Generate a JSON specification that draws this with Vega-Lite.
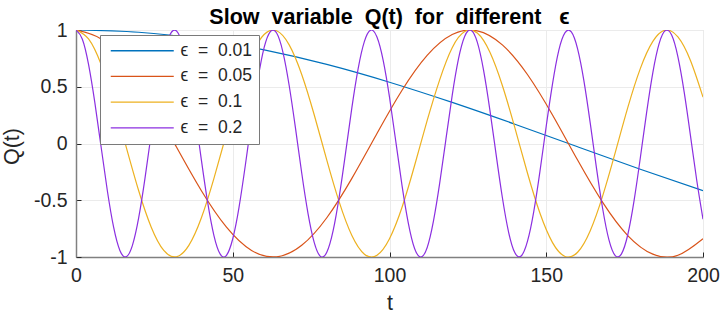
{
  "$schema": "https://vega.github.io/schema/vega-lite/v6.json",
  "width": 627,
  "height": 227,
  "autosize": {"type": "none"},
  "padding": {"left": 76, "top": 30, "right": 19, "bottom": 57},
  "background": "white",
  "title": {"text": "Slow\u00a0 variable\u00a0 Q(t)\u00a0 for\u00a0 different\u00a0\u00a0 ϵ", "fontSize": 21.5, "font": "Liberation Sans", "fontWeight": "bold", "offset": -8, "anchor": "middle", "color": "black"},
  "data": {"values": [
    {"e":"0.01","t":0,"q":1},{"e":"0.01","t":20,"q":0.980},{"e":"0.01","t":40,"q":0.921},{"e":"0.01","t":60,"q":0.825},{"e":"0.01","t":80,"q":0.697},{"e":"0.01","t":100,"q":0.540},{"e":"0.01","t":120,"q":0.362},{"e":"0.01","t":140,"q":0.170},{"e":"0.01","t":160,"q":-0.029},{"e":"0.01","t":180,"q":-0.227},{"e":"0.01","t":200,"q":-0.416},
    {"e":"0.05","t":0,"q":1},{"e":"0.05","t":8,"q":0.921},{"e":"0.05","t":16,"q":0.697},{"e":"0.05","t":24,"q":0.362},{"e":"0.05","t":32,"q":-0.029},{"e":"0.05","t":40,"q":-0.416},{"e":"0.05","t":48,"q":-0.737},{"e":"0.05","t":56,"q":-0.942},{"e":"0.05","t":64,"q":-0.998},{"e":"0.05","t":72,"q":-0.897},{"e":"0.05","t":80,"q":-0.654},{"e":"0.05","t":88,"q":-0.307},{"e":"0.05","t":96,"q":0.088},{"e":"0.05","t":104,"q":0.469},{"e":"0.05","t":112,"q":0.776},{"e":"0.05","t":120,"q":0.960},{"e":"0.05","t":128,"q":0.993},{"e":"0.05","t":136,"q":0.869},{"e":"0.05","t":144,"q":0.608},{"e":"0.05","t":152,"q":0.251},{"e":"0.05","t":160,"q":-0.146},{"e":"0.05","t":168,"q":-0.519},{"e":"0.05","t":176,"q":-0.811},{"e":"0.05","t":184,"q":-0.975},{"e":"0.05","t":192,"q":-0.985},{"e":"0.05","t":200,"q":-0.839},
    {"e":"0.1","t":0,"q":1},{"e":"0.1","t":4,"q":0.921},{"e":"0.1","t":8,"q":0.697},{"e":"0.1","t":12,"q":0.362},{"e":"0.1","t":16,"q":-0.029},{"e":"0.1","t":20,"q":-0.416},{"e":"0.1","t":24,"q":-0.737},{"e":"0.1","t":28,"q":-0.942},{"e":"0.1","t":32,"q":-0.998},{"e":"0.1","t":36,"q":-0.897},{"e":"0.1","t":40,"q":-0.654},{"e":"0.1","t":44,"q":-0.307},{"e":"0.1","t":48,"q":0.088},{"e":"0.1","t":52,"q":0.469},{"e":"0.1","t":56,"q":0.776},{"e":"0.1","t":60,"q":0.960},{"e":"0.1","t":64,"q":0.993},{"e":"0.1","t":68,"q":0.869},{"e":"0.1","t":72,"q":0.608},{"e":"0.1","t":76,"q":0.251},{"e":"0.1","t":80,"q":-0.146},{"e":"0.1","t":84,"q":-0.519},{"e":"0.1","t":88,"q":-0.811},{"e":"0.1","t":92,"q":-0.975},{"e":"0.1","t":96,"q":-0.985},{"e":"0.1","t":100,"q":-0.839},{"e":"0.1","t":104,"q":-0.562},{"e":"0.1","t":108,"q":-0.194},{"e":"0.1","t":112,"q":0.201},{"e":"0.1","t":116,"q":0.561},{"e":"0.1","t":120,"q":0.844},{"e":"0.1","t":124,"q":0.986},{"e":"0.1","t":128,"q":0.973},{"e":"0.1","t":132,"q":0.806},{"e":"0.1","t":136,"q":0.511},{"e":"0.1","t":140,"q":0.137},{"e":"0.1","t":144,"q":-0.260},{"e":"0.1","t":148,"q":-0.615},{"e":"0.1","t":152,"q":-0.873},{"e":"0.1","t":156,"q":-0.995},{"e":"0.1","t":160,"q":-0.958},{"e":"0.1","t":164,"q":-0.770},{"e":"0.1","t":168,"q":-0.461},{"e":"0.1","t":172,"q":-0.080},{"e":"0.1","t":176,"q":0.316},{"e":"0.1","t":180,"q":0.660},{"e":"0.1","t":184,"q":0.900},{"e":"0.1","t":188,"q":0.999},{"e":"0.1","t":192,"q":0.939},{"e":"0.1","t":196,"q":0.731},{"e":"0.1","t":200,"q":0.408},
    {"e":"0.2","t":0,"q":1},{"e":"0.2","t":2,"q":0.921},{"e":"0.2","t":4,"q":0.697},{"e":"0.2","t":6,"q":0.362},{"e":"0.2","t":8,"q":-0.029},{"e":"0.2","t":10,"q":-0.416},{"e":"0.2","t":12,"q":-0.737},{"e":"0.2","t":14,"q":-0.942},{"e":"0.2","t":16,"q":-0.998},{"e":"0.2","t":18,"q":-0.897},{"e":"0.2","t":20,"q":-0.654},{"e":"0.2","t":22,"q":-0.307},{"e":"0.2","t":24,"q":0.088},{"e":"0.2","t":26,"q":0.469},{"e":"0.2","t":28,"q":0.776},{"e":"0.2","t":30,"q":0.960},{"e":"0.2","t":32,"q":0.993},{"e":"0.2","t":34,"q":0.869},{"e":"0.2","t":36,"q":0.608},{"e":"0.2","t":38,"q":0.251},{"e":"0.2","t":40,"q":-0.146},{"e":"0.2","t":42,"q":-0.519},{"e":"0.2","t":44,"q":-0.811},{"e":"0.2","t":46,"q":-0.975},{"e":"0.2","t":48,"q":-0.985},{"e":"0.2","t":50,"q":-0.839},{"e":"0.2","t":52,"q":-0.562},{"e":"0.2","t":54,"q":-0.194},{"e":"0.2","t":56,"q":0.201},{"e":"0.2","t":58,"q":0.561},{"e":"0.2","t":60,"q":0.844},{"e":"0.2","t":62,"q":0.986},{"e":"0.2","t":64,"q":0.973},{"e":"0.2","t":66,"q":0.806},{"e":"0.2","t":68,"q":0.511},{"e":"0.2","t":70,"q":0.137},{"e":"0.2","t":72,"q":-0.260},{"e":"0.2","t":74,"q":-0.615},{"e":"0.2","t":76,"q":-0.873},{"e":"0.2","t":78,"q":-0.995},{"e":"0.2","t":80,"q":-0.958},{"e":"0.2","t":82,"q":-0.770},{"e":"0.2","t":84,"q":-0.461},{"e":"0.2","t":86,"q":-0.080},{"e":"0.2","t":88,"q":0.316},{"e":"0.2","t":90,"q":0.660},{"e":"0.2","t":92,"q":0.900},{"e":"0.2","t":94,"q":0.999},{"e":"0.2","t":96,"q":0.939},{"e":"0.2","t":98,"q":0.731},{"e":"0.2","t":100,"q":0.408},{"e":"0.2","t":102,"q":0.020},{"e":"0.2","t":104,"q":-0.371},{"e":"0.2","t":106,"q":-0.701},{"e":"0.2","t":108,"q":-0.925},{"e":"0.2","t":110,"q":-1.000},{"e":"0.2","t":112,"q":-0.918},{"e":"0.2","t":114,"q":-0.686},{"e":"0.2","t":116,"q":-0.352},{"e":"0.2","t":118,"q":0.038},{"e":"0.2","t":120,"q":0.424},{"e":"0.2","t":122,"q":0.745},{"e":"0.2","t":124,"q":0.945},{"e":"0.2","t":126,"q":0.998},{"e":"0.2","t":128,"q":0.893},{"e":"0.2","t":130,"q":0.647},{"e":"0.2","t":132,"q":0.299},{"e":"0.2","t":134,"q":-0.096},{"e":"0.2","t":136,"q":-0.476},{"e":"0.2","t":138,"q":-0.782},{"e":"0.2","t":140,"q":-0.963},{"e":"0.2","t":142,"q":-0.991},{"e":"0.2","t":144,"q":-0.863},{"e":"0.2","t":146,"q":-0.602},{"e":"0.2","t":148,"q":-0.243},{"e":"0.2","t":150,"q":0.154},{"e":"0.2","t":152,"q":0.526},{"e":"0.2","t":154,"q":0.821},{"e":"0.2","t":156,"q":0.977},{"e":"0.2","t":158,"q":0.983},{"e":"0.2","t":160,"q":0.834},{"e":"0.2","t":162,"q":0.554},{"e":"0.2","t":164,"q":0.186},{"e":"0.2","t":166,"q":-0.212},{"e":"0.2","t":168,"q":-0.575},{"e":"0.2","t":170,"q":-0.849},{"e":"0.2","t":172,"q":-0.987},{"e":"0.2","t":174,"q":-0.972},{"e":"0.2","t":176,"q":-0.804},{"e":"0.2","t":178,"q":-0.506},{"e":"0.2","t":180,"q":-0.128},{"e":"0.2","t":182,"q":0.270},{"e":"0.2","t":184,"q":0.625},{"e":"0.2","t":186,"q":0.880},{"e":"0.2","t":188,"q":0.995},{"e":"0.2","t":190,"q":0.955},{"e":"0.2","t":192,"q":0.764},{"e":"0.2","t":194,"q":0.453},{"e":"0.2","t":196,"q":0.070},{"e":"0.2","t":198,"q":-0.324},{"e":"0.2","t":200,"q":-0.667}
  ]},
  "mark": {"type": "line", "interpolate": "natural", "strokeWidth": 1.2, "clip": true},
  "encoding": {
    "x": {
      "field": "t", "type": "quantitative",
      "scale": {"domain": [0, 200], "nice": false},
      "axis": {"values": [0, 50, 100, 150, 200], "title": "t", "titleY": 52, "titleBaseline": "alphabetic", "labelPadding": 14}
    },
    "y": {
      "field": "q", "type": "quantitative",
      "scale": {"domain": [-1, 1], "nice": false},
      "axis": {"values": [-1, -0.5, 0, 0.5, 1], "labelExpr": "datum.value + ''", "title": "Q(t)", "titleX": -58, "titleY": 116, "titleBaseline": "alphabetic", "titleAngle": -90, "labelPadding": 14}
    },
    "color": {
      "field": "e", "type": "nominal",
      "scale": {"domain": ["0.01", "0.05", "0.1", "0.2"], "range": ["#0072BD", "#D95319", "#EDB120", "#8B2FE0"]},
      "legend": {
        "title": null,
        "orient": "none", "legendX": 24, "legendY": 5,
        "labelExpr": "'ϵ\u00a0 =\u00a0 ' + datum.label",
        "symbolType": "M-6.3,0H6.3", "symbolSize": 100, "symbolStrokeWidth": 1.3,
        "symbolOffset": 26.5, "labelOffset": 29.5,
        "padding": 7, "rowPadding": 6.7,
        "strokeColor": "#7a7a7a", "fillColor": "white",
        "labelFontSize": 17.5, "labelFont": "Liberation Sans", "labelColor": "#262626", "labelLimit": 300
      }
    }
  },
  "config": {
    "view": {"stroke": "#dcdcdc", "strokeWidth": 1},
    "axis": {
      "labelFont": "Liberation Sans", "labelFontSize": 19.5, "labelColor": "#262626",
      "titleFont": "Liberation Sans", "titleFontSize": 21.5, "titleFontWeight": "normal", "titleColor": "#262626",
      "domainColor": "#808080", "domainWidth": 1.5,
      "tickColor": "#262626", "tickSize": -5,
      "gridColor": "#ebebeb", "gridWidth": 1,
      "labelFlush": false, "labelOverlap": false
    }
  }
}
